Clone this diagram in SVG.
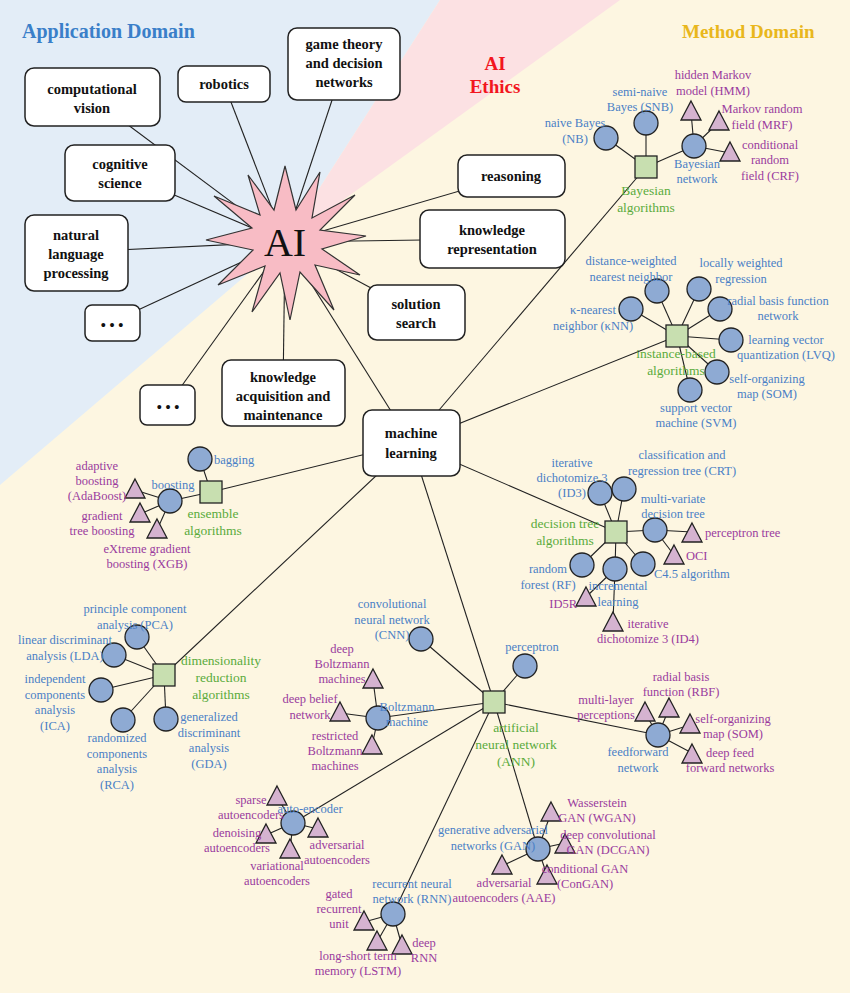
<svg xmlns="http://www.w3.org/2000/svg" xmlns:xlink="http://www.w3.org/1999/xlink" width="850" height="993" viewBox="0 0 850 993">
<style>
text{font-family:"Liberation Serif","Times New Roman",serif;font-size:12.5px;text-anchor:middle}
.b{fill:#4a7fc6}.p{fill:#9a3b9e}.g{fill:#5aab3c;font-size:13.5px}
.bx{fill:#fff;stroke:#222;stroke-width:1.5}
.bt{font-weight:bold;font-size:14.5px;fill:#111}
.c{fill:#8eaad3;stroke:#222;stroke-width:1.3}
.s{fill:#c8dfb0;stroke:#222;stroke-width:1.3}
.t{fill:#d5b3d0;stroke:#222;stroke-width:1.3}
#edges line{stroke:#222;stroke-width:1.1}
.l{text-anchor:start}.r{text-anchor:end}
</style>
<defs>
<polygon id="tri" points="0,-11 10,8 -10,8" class="t"/>
<rect id="sq" x="-11" y="-11" width="22" height="22" class="s"/>
</defs>
<rect width="850" height="993" fill="#fdf6e1"/>
<polygon points="0,0 440,0 285,242 0,485" fill="#e3edf7"/>
<polygon points="440,0 620,0 285,242" fill="#fce1e3"/>
<text x="22" y="38" style="font-weight:bold;font-size:20px;fill:#3a7fc9;text-anchor:start">Application Domain</text>
<text x="682" y="38" style="font-weight:bold;font-size:19px;fill:#e9b71c;text-anchor:start">Method Domain</text>
<text x="495" y="70" style="font-weight:bold;font-size:19px;fill:#f2161e">AI</text>
<text x="495" y="93" style="font-weight:bold;font-size:19px;fill:#f2161e">Ethics</text>
<g id="edges">
<line x1="285" y1="242" x2="92" y2="98"/><line x1="285" y1="242" x2="224" y2="84"/><line x1="285" y1="242" x2="344" y2="64"/>
<line x1="285" y1="242" x2="120" y2="172"/><line x1="285" y1="242" x2="76" y2="252"/><line x1="285" y1="242" x2="112" y2="322"/>
<line x1="285" y1="242" x2="511" y2="176"/><line x1="285" y1="242" x2="492" y2="239"/><line x1="285" y1="242" x2="416" y2="312"/>
<line x1="285" y1="242" x2="283" y2="392"/><line x1="285" y1="242" x2="168" y2="405"/><line x1="285" y1="242" x2="411" y2="443"/>
<line x1="411" y1="443" x2="646" y2="167"/><line x1="411" y1="443" x2="677" y2="336"/><line x1="411" y1="443" x2="616" y2="532"/>
<line x1="411" y1="443" x2="494" y2="702"/><line x1="411" y1="443" x2="164" y2="675"/><line x1="411" y1="443" x2="211" y2="492"/>
<line x1="646" y1="167" x2="606" y2="138"/><line x1="646" y1="167" x2="646" y2="123"/><line x1="646" y1="167" x2="694" y2="146"/>
<line x1="694" y1="146" x2="691" y2="112"/><line x1="694" y1="146" x2="719" y2="122"/><line x1="694" y1="146" x2="730" y2="153"/>
<line x1="677" y1="336" x2="657" y2="291"/><line x1="677" y1="336" x2="699" y2="289"/><line x1="677" y1="336" x2="720" y2="309"/><line x1="677" y1="336" x2="731" y2="340"/><line x1="677" y1="336" x2="717" y2="372"/><line x1="677" y1="336" x2="690" y2="390"/><line x1="677" y1="336" x2="631" y2="309"/>
<line x1="211" y1="492" x2="200" y2="459"/><line x1="211" y1="492" x2="170" y2="501"/>
<line x1="170" y1="501" x2="135" y2="490"/><line x1="170" y1="501" x2="140" y2="514"/><line x1="170" y1="501" x2="157" y2="530"/>
<line x1="164" y1="675" x2="137" y2="637"/><line x1="164" y1="675" x2="114" y2="655"/><line x1="164" y1="675" x2="101" y2="690"/><line x1="164" y1="675" x2="123" y2="720"/><line x1="164" y1="675" x2="166" y2="719"/>
<line x1="616" y1="532" x2="600" y2="493"/><line x1="616" y1="532" x2="624" y2="489"/><line x1="616" y1="532" x2="655" y2="530"/><line x1="616" y1="532" x2="582" y2="565"/><line x1="616" y1="532" x2="615" y2="569"/><line x1="616" y1="532" x2="643" y2="564"/>
<line x1="655" y1="530" x2="692" y2="532"/><line x1="655" y1="530" x2="674" y2="555"/><line x1="615" y1="569" x2="586" y2="597"/><line x1="615" y1="569" x2="613" y2="622"/>
<line x1="494" y1="702" x2="525" y2="666"/><line x1="494" y1="702" x2="421" y2="639"/><line x1="494" y1="702" x2="378" y2="718"/><line x1="494" y1="702" x2="658" y2="735"/><line x1="494" y1="702" x2="293" y2="823"/><line x1="494" y1="702" x2="393" y2="914"/><line x1="494" y1="702" x2="538" y2="849"/>
<line x1="378" y1="718" x2="373" y2="680"/><line x1="378" y1="718" x2="340" y2="713"/><line x1="378" y1="718" x2="372" y2="746"/>
<line x1="658" y1="735" x2="645" y2="713"/><line x1="658" y1="735" x2="669" y2="709"/><line x1="658" y1="735" x2="690" y2="725"/><line x1="658" y1="735" x2="692" y2="753"/>
<line x1="293" y1="823" x2="277" y2="797"/><line x1="293" y1="823" x2="266" y2="835"/><line x1="293" y1="823" x2="290" y2="850"/><line x1="293" y1="823" x2="318" y2="829"/>
<line x1="393" y1="914" x2="364" y2="922"/><line x1="393" y1="914" x2="377" y2="942"/><line x1="393" y1="914" x2="402" y2="946"/>
<line x1="538" y1="849" x2="551" y2="813"/><line x1="538" y1="849" x2="565" y2="843"/><line x1="538" y1="849" x2="547" y2="875"/><line x1="538" y1="849" x2="502" y2="866"/>
</g>
<g id="ai">
<polygon points="285,166 296,210 320,172 312,218 355,195 320,230 366,236 322,249 360,275 315,265 334,310 300,272 290,320 280,273 252,312 265,266 218,285 253,250 206,240 252,228 214,196 260,215 248,175 274,210" fill="#f8bcc5" stroke="#333" stroke-width="1.2"/>
<text x="285" y="256" style="font-size:40px;fill:#111">AI</text>
</g>
<g id="app-boxes">
<g id="cv"><rect class="bx" x="25" y="68" width="135" height="58" rx="9"/><text class="bt" x="92" y="94">computational</text><text class="bt" x="92" y="113">vision</text></g>
<g id="rob"><rect class="bx" x="178" y="66" width="92" height="36" rx="8"/><text class="bt" x="224" y="89">robotics</text></g>
<g id="gt"><rect class="bx" x="288" y="28" width="112" height="72" rx="9"/><text class="bt" x="344" y="49">game theory</text><text class="bt" x="344" y="68">and decision</text><text class="bt" x="344" y="87">networks</text></g>
<g id="cs"><rect class="bx" x="65" y="145" width="110" height="56" rx="9"/><text class="bt" x="120" y="169">cognitive</text><text class="bt" x="120" y="188">science</text></g>
<g id="nlp"><rect class="bx" x="25" y="215" width="103" height="76" rx="9"/><text class="bt" x="76" y="240">natural</text><text class="bt" x="76" y="259">language</text><text class="bt" x="76" y="278">processing</text></g>
<g id="dots1"><rect class="bx" x="85" y="305" width="55" height="36" rx="7"/><text class="bt" x="112" y="330">• • •</text></g>
<g id="reas"><rect class="bx" x="458" y="155" width="107" height="42" rx="9"/><text class="bt" x="511" y="181">reasoning</text></g>
<g id="kr"><rect class="bx" x="420" y="210" width="145" height="58" rx="9"/><text class="bt" x="492" y="235">knowledge</text><text class="bt" x="492" y="254">representation</text></g>
<g id="ss"><rect class="bx" x="368" y="285" width="97" height="55" rx="9"/><text class="bt" x="416" y="309">solution</text><text class="bt" x="416" y="328">search</text></g>
<g id="kam"><rect class="bx" x="222" y="360" width="123" height="66" rx="9"/><text class="bt" x="283" y="382">knowledge</text><text class="bt" x="283" y="401">acquisition and</text><text class="bt" x="283" y="420">maintenance</text></g>
<g id="dots2"><rect class="bx" x="140" y="385" width="55" height="40" rx="7"/><text class="bt" x="168" y="412">• • •</text></g>
<g id="ml"><rect class="bx" x="363" y="410" width="97" height="66" rx="9"/><text class="bt" x="411" y="438">machine</text><text class="bt" x="411" y="458">learning</text></g>
</g>
<g id="bayes">
<use href="#sq" x="646" y="167"/><circle class="c" cx="606" cy="138" r="12"/><circle class="c" cx="646" cy="123" r="12"/><circle class="c" cx="694" cy="146" r="12"/>
<use href="#tri" x="691" y="112"/><use href="#tri" x="719" y="122"/><use href="#tri" x="730" y="153"/>
<text class="b" x="575" y="127">naive Bayes</text><text class="b" x="575" y="143">(NB)</text>
<text class="b" x="640" y="96">semi-naive</text><text class="b" x="640" y="111">Bayes (SNB)</text>
<text class="p" x="713" y="79">hidden Markov</text><text class="p" x="713" y="95">model (HMM)</text>
<text class="p" x="762" y="113">Markov random</text><text class="p" x="762" y="129">field (MRF)</text>
<text class="p" x="770" y="149">conditional</text><text class="p" x="770" y="164">random</text><text class="p" x="770" y="180">field (CRF)</text>
<text class="b" x="697" y="168">Bayesian</text><text class="b" x="697" y="183">network</text>
<text class="g" x="646" y="195">Bayesian</text><text class="g" x="646" y="212">algorithms</text>
</g>
<g id="instance">
<use href="#sq" x="677" y="336"/>
<circle class="c" cx="657" cy="291" r="12"/><circle class="c" cx="699" cy="289" r="12"/><circle class="c" cx="720" cy="309" r="12"/><circle class="c" cx="731" cy="340" r="12"/><circle class="c" cx="717" cy="372" r="12"/><circle class="c" cx="690" cy="390" r="12"/><circle class="c" cx="631" cy="309" r="12"/>
<text class="b" x="631" y="265">distance-weighted</text><text class="b" x="631" y="281">nearest neighbor</text>
<text class="b" x="741" y="267">locally weighted</text><text class="b" x="741" y="283">regression</text>
<text class="b" x="778" y="305">radial basis function</text><text class="b" x="778" y="320">network</text>
<text class="b" x="786" y="344">learning vector</text><text class="b" x="786" y="359">quantization (LVQ)</text>
<text class="b" x="767" y="383">self-organizing</text><text class="b" x="767" y="398">map (SOM)</text>
<text class="b" x="696" y="412">support vector</text><text class="b" x="696" y="427">machine (SVM)</text>
<text class="b" x="593" y="314">κ-nearest</text><text class="b" x="593" y="330">neighbor (κNN)</text>
<text class="g" x="676" y="358">instance-based</text><text class="g" x="676" y="375">algorithms</text>
</g>
<g id="ensemble">
<use href="#sq" x="211" y="492"/><circle class="c" cx="200" cy="459" r="12"/><circle class="c" cx="170" cy="501" r="12"/>
<use href="#tri" x="135" y="490"/><use href="#tri" x="140" y="514"/><use href="#tri" x="157" y="530"/>
<text class="b l" x="214" y="464">bagging</text><text class="b" x="173" y="489">boosting</text>
<text class="p" x="97" y="470">adaptive</text><text class="p" x="97" y="485">boosting</text><text class="p" x="97" y="500">(AdaBoost)</text>
<text class="p" x="102" y="520">gradient</text><text class="p" x="102" y="535">tree boosting</text>
<text class="p" x="147" y="553">eXtreme gradient</text><text class="p" x="147" y="568">boosting (XGB)</text>
<text class="g" x="213" y="518">ensemble</text><text class="g" x="213" y="535">algorithms</text>
</g>
<g id="dimred">
<use href="#sq" x="164" y="675"/>
<circle class="c" cx="137" cy="637" r="12"/><circle class="c" cx="114" cy="655" r="12"/><circle class="c" cx="101" cy="690" r="12"/><circle class="c" cx="123" cy="720" r="12"/><circle class="c" cx="166" cy="719" r="12"/>
<text class="b" x="135" y="613">principle component</text><text class="b" x="135" y="629">analysis (PCA)</text>
<text class="b" x="65" y="644">linear discriminant</text><text class="b" x="65" y="660">analysis (LDA)</text>
<text class="b" x="55" y="683">independent</text><text class="b" x="55" y="699">components</text><text class="b" x="55" y="714">analysis</text><text class="b" x="55" y="730">(ICA)</text>
<text class="b" x="117" y="742">randomized</text><text class="b" x="117" y="758">components</text><text class="b" x="117" y="773">analysis</text><text class="b" x="117" y="789">(RCA)</text>
<text class="b" x="209" y="721">generalized</text><text class="b" x="209" y="737">discriminant</text><text class="b" x="209" y="752">analysis</text><text class="b" x="209" y="768">(GDA)</text>
<text class="g" x="221" y="665">dimensionality</text><text class="g" x="221" y="682">reduction</text><text class="g" x="221" y="699">algorithms</text>
</g>
<g id="dtree">
<use href="#sq" x="616" y="532"/>
<circle class="c" cx="600" cy="493" r="12"/><circle class="c" cx="624" cy="489" r="12"/><circle class="c" cx="655" cy="530" r="12"/><circle class="c" cx="582" cy="565" r="12"/><circle class="c" cx="615" cy="569" r="12"/><circle class="c" cx="643" cy="564" r="12"/>
<use href="#tri" x="692" y="534"/><use href="#tri" x="674" y="556"/><use href="#tri" x="586" y="598"/><use href="#tri" x="613" y="623"/>
<text class="b" x="572" y="467">iterative</text><text class="b" x="572" y="482">dichotomize 3</text><text class="b" x="572" y="497">(ID3)</text>
<text class="b" x="682" y="459">classification and</text><text class="b" x="682" y="475">regression tree (CRT)</text>
<text class="b" x="673" y="503">multi-variate</text><text class="b" x="673" y="518">decision tree</text>
<text class="p l" x="705" y="537">perceptron tree</text><text class="p l" x="686" y="560">OCI</text>
<text class="b" x="548" y="573">random</text><text class="b" x="548" y="589">forest (RF)</text>
<text class="b l" x="654" y="578">C4.5 algorithm</text>
<text class="b" x="618" y="590">incremental</text><text class="b" x="618" y="606">learning</text>
<text class="p r" x="577" y="608">ID5R</text>
<text class="p" x="648" y="628">iterative</text><text class="p" x="648" y="643">dichotomize 3 (ID4)</text>
<text class="g" x="565" y="528">decision tree</text><text class="g" x="565" y="545">algorithms</text>
</g>
<g id="ann">
<use href="#sq" x="494" y="702"/>
<circle class="c" cx="525" cy="666" r="12"/><circle class="c" cx="421" cy="639" r="12"/>
<text class="b" x="532" y="651">perceptron</text>
<text class="b" x="392" y="608">convolutional</text><text class="b" x="392" y="624">neural network</text><text class="b" x="392" y="639">(CNN)</text>
<text class="g" x="516" y="732">artificial</text><text class="g" x="516" y="749">neural network</text><text class="g" x="516" y="766">(ANN)</text>
</g>
<g id="boltz">
<circle class="c" cx="378" cy="718" r="12"/><use href="#tri" x="373" y="680"/><use href="#tri" x="340" y="713"/><use href="#tri" x="372" y="746"/>
<text class="p" x="342" y="653">deep</text><text class="p" x="342" y="668">Boltzmann</text><text class="p" x="342" y="683">machines</text>
<text class="p" x="310" y="703">deep belief</text><text class="p" x="310" y="719">network</text>
<text class="p" x="335" y="740">restricted</text><text class="p" x="335" y="755">Boltzmann</text><text class="p" x="335" y="770">machines</text>
<text class="b" x="407" y="711">Boltzmann</text><text class="b" x="407" y="726">machine</text>
</g>
<g id="ff">
<circle class="c" cx="658" cy="735" r="12"/><use href="#tri" x="645" y="713"/><use href="#tri" x="669" y="709"/><use href="#tri" x="690" y="725"/><use href="#tri" x="692" y="755"/>
<text class="p" x="681" y="681">radial basis</text><text class="p" x="681" y="696">function (RBF)</text>
<text class="p" x="606" y="704">multi-layer</text><text class="p" x="606" y="719">perceptions</text>
<text class="p" x="733" y="723">self-organizing</text><text class="p" x="733" y="738">map (SOM)</text>
<text class="p" x="730" y="757">deep feed</text><text class="p" x="730" y="772">forward networks</text>
<text class="b" x="638" y="756">feedforward</text><text class="b" x="638" y="772">network</text>
</g>
<g id="ae">
<circle class="c" cx="293" cy="823" r="12"/><use href="#tri" x="277" y="797"/><use href="#tri" x="266" y="835"/><use href="#tri" x="290" y="850"/><use href="#tri" x="318" y="829"/>
<text class="b" x="310" y="813">auto-encoder</text>
<text class="p" x="251" y="804">sparse</text><text class="p" x="251" y="819">autoencoders</text>
<text class="p" x="237" y="837">denoising</text><text class="p" x="237" y="852">autoencoders</text>
<text class="p" x="277" y="870">variational</text><text class="p" x="277" y="885">autoencoders</text>
<text class="p" x="337" y="849">adversarial</text><text class="p" x="337" y="864">autoencoders</text>
</g>
<g id="rnn">
<circle class="c" cx="393" cy="914" r="12"/><use href="#tri" x="364" y="922"/><use href="#tri" x="377" y="942"/><use href="#tri" x="402" y="946"/>
<text class="b" x="412" y="888">recurrent neural</text><text class="b" x="412" y="903">network (RNN)</text>
<text class="p" x="339" y="898">gated</text><text class="p" x="339" y="913">recurrent</text><text class="p" x="339" y="928">unit</text>
<text class="p" x="358" y="960">long-short term</text><text class="p" x="358" y="975">memory (LSTM)</text>
<text class="p" x="424" y="947">deep</text><text class="p" x="424" y="962">RNN</text>
</g>
<g id="gan">
<circle class="c" cx="538" cy="849" r="12"/><use href="#tri" x="551" y="813"/><use href="#tri" x="565" y="845"/><use href="#tri" x="547" y="876"/><use href="#tri" x="502" y="866"/>
<text class="b" x="493" y="834">generative adversarial</text><text class="b" x="493" y="850">networks (GAN)</text>
<text class="p" x="597" y="807">Wasserstein</text><text class="p" x="597" y="822">GAN (WGAN)</text>
<text class="p" x="608" y="839">deep convolutional</text><text class="p" x="608" y="854">GAN (DCGAN)</text>
<text class="p" x="585" y="873">conditional GAN</text><text class="p" x="585" y="888">(ConGAN)</text>
<text class="p" x="504" y="887">adversarial</text><text class="p" x="504" y="902">autoencoders (AAE)</text>
</g>
</svg>
